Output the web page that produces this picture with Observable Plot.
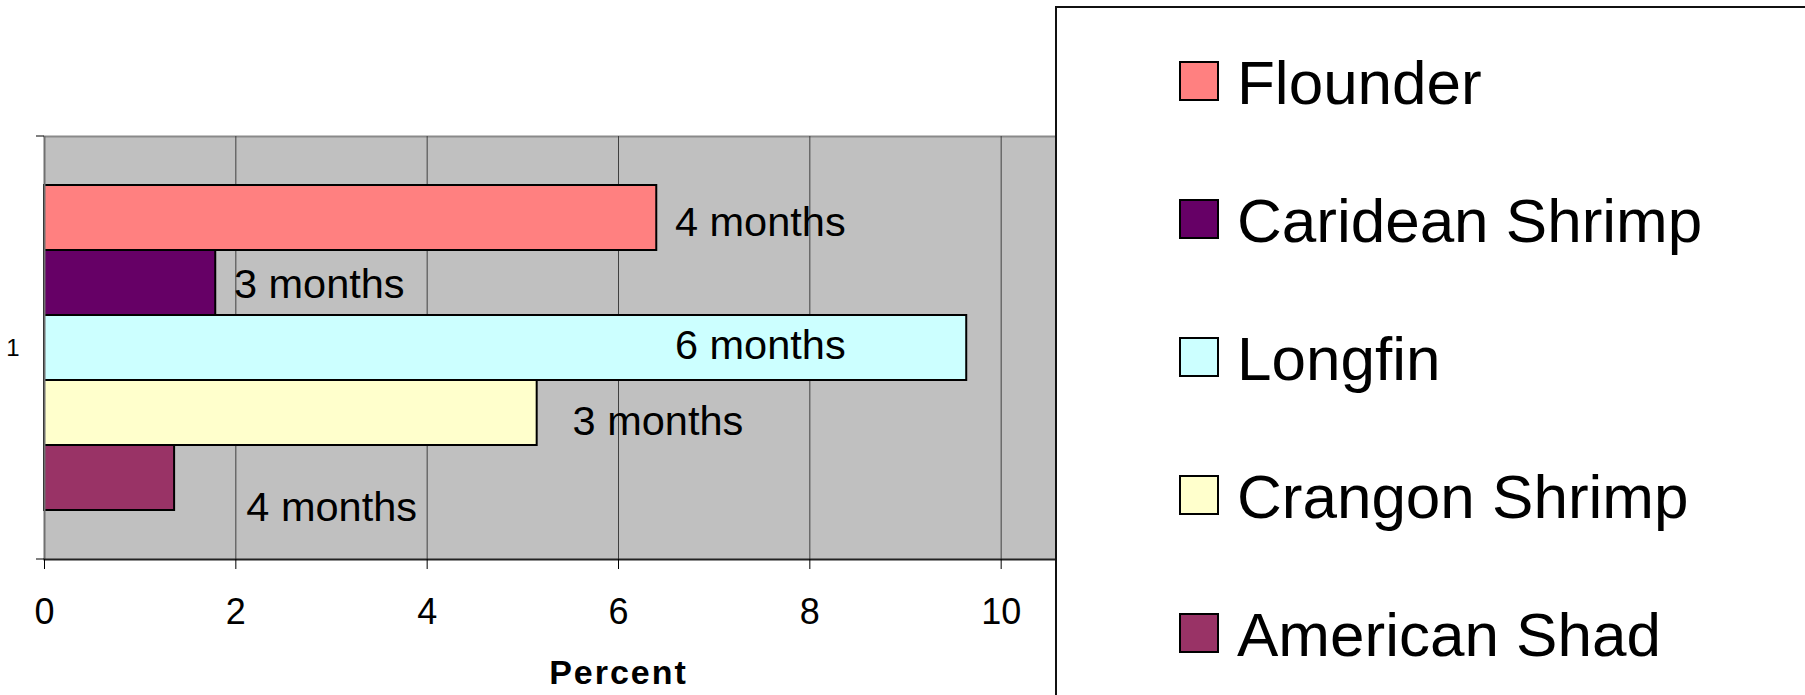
<!DOCTYPE html>
<html><head><meta charset="utf-8">
<script src="https://cdn.jsdelivr.net/npm/d3@7"></script>
<script src="https://cdn.jsdelivr.net/npm/@observablehq/plot@0.6"></script>
<style>
body{margin:0;background:#fff;font-family:"Liberation Sans",Arial,sans-serif;}
#wrap{position:relative;width:1805px;height:695px;overflow:hidden;background:#fff;}
#legend{position:absolute;left:1055px;top:6px;width:800px;height:800px;background:#fff;border-left:2px solid #111;border-top:2px solid #111;}
.item{position:absolute;left:122px;display:flex;align-items:center;height:40px;}
.sw{width:40px;height:40px;box-sizing:border-box;border:2px solid #000;flex:none;}
.lab{margin-left:18px;font-size:62px;line-height:1;color:#000;white-space:nowrap;position:relative;top:2px;}
</style></head>
<body><div id="wrap"></div>
<script>
const categories = ["1"];
const species = ["Flounder", "Caridean Shrimp", "Longfin", "Crangon Shrimp", "American Shad"];
const percent = [6.40, 1.79, 9.64, 5.15, 1.36];
const durations = ["4 months", "3 months", "6 months", "3 months", "4 months"];
const colors = ["#FF8080", "#660066", "#CCFFFF", "#FFFFCC", "#993366"];
const xTicks = [0, 2, 4, 6, 8, 10, 12];

const data = species.map((s, i) => ({species: s, percent: percent[i], duration: durations[i]}));

// the duration labels were hand-placed in the original: where each starts (in percent) and a vertical nudge
const labelStart = [6.59, 1.98, 6.59, 5.52, 2.11];
const labelNudge = [5, 2, -2.5, 9, 30];
const labelMarks = data.map((d, i) => Plot.text([d], {
  x: () => labelStart[i], y: "species", text: "duration",
  textAnchor: "start", dy: labelNudge[i], fontSize: 41.5, fill: "#000"
}));

const yEdgeTicks = (index, scales, values, dims) => {
  const g = d3.create("svg:g").attr("stroke", "#000").attr("stroke-width", 1);
  const ys = [dims.marginTop, dims.height - dims.marginBottom];
  ys.forEach(y => g.append("line")
    .attr("x1", dims.marginLeft - 8).attr("x2", dims.marginLeft)
    .attr("y1", y).attr("y2", y));
  return g.node();
};

const chart = Plot.plot({
  width: 1805, height: 695,
  marginLeft: 44, marginRight: 613, marginTop: 136, marginBottom: 136,
  style: {fontFamily: '"Liberation Sans", Arial, sans-serif', background: "transparent", color: "#000", overflow: "visible"},
  x: {domain: [0, 12]},
  y: {domain: species, paddingInner: 0, paddingOuter: 0.75, axis: null},
  color: {domain: species, range: colors},
  marks: [
    Plot.frame({fill: "#c0c0c0"}),
    Plot.frame({anchor: "top", stroke: "#8a8a8a", strokeWidth: 2}),
    Plot.ruleX(xTicks.filter(d => d > 0), {stroke: "#404040", strokeWidth: 1}),
    Plot.barX(data, {x: "percent", y: "species", fill: "species", stroke: "#000", strokeWidth: 2}),
    ...labelMarks,
    Plot.ruleX([0], {stroke: "#707070", strokeWidth: 2}),
    Plot.frame({anchor: "bottom", stroke: "#222", strokeWidth: 2}),
    Plot.axisX({ticks: xTicks, tickSize: 10, tickPadding: 29, fontSize: 36, label: null, tickFormat: d => String(d), stroke: "#000"}),
    yEdgeTicks,
    Plot.text(categories, {frameAnchor: "left", text: d => d, dx: -25, textAnchor: "end", fontSize: 24, fill: "#000"}),
    Plot.text(["Percent"], {frameAnchor: "bottom", text: d => d, dy: 124, fontSize: 34, fontWeight: "bold", fill: "#000"})
  ]
});

d3.select(chart).selectAll("text").filter(function() { return this.textContent === "Percent"; })
  .style("letter-spacing", "2px");

const wrap = document.getElementById("wrap");
wrap.appendChild(chart);

const legend = document.createElement("div");
legend.id = "legend";
species.forEach((s, i) => {
  const item = document.createElement("div");
  item.className = "item";
  item.style.top = (53 + i * 137.9) + "px";
  const sw = document.createElement("div");
  sw.className = "sw";
  sw.style.background = colors[i];
  const lab = document.createElement("span");
  lab.className = "lab";
  lab.textContent = s;
  item.appendChild(sw);
  item.appendChild(lab);
  legend.appendChild(item);
});
wrap.appendChild(legend);
</script>
</body></html>
